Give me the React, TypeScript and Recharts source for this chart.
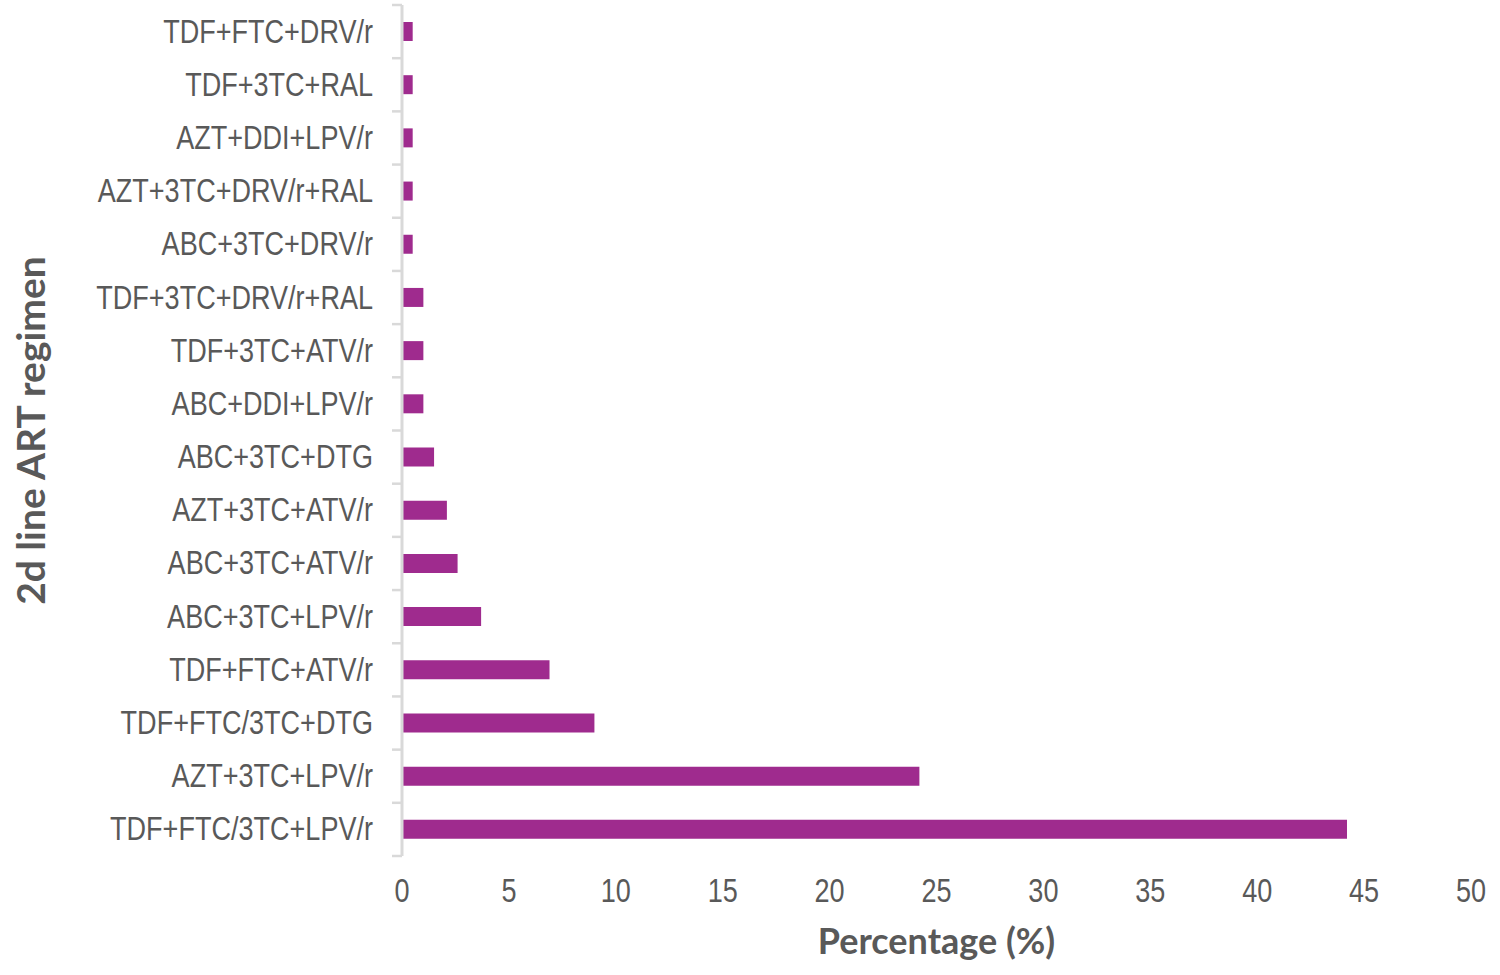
import React from "react";
import { BarChart, Bar, XAxis, YAxis, Label } from "recharts";

const categories = [
  "TDF+FTC+DRV/r",
  "TDF+3TC+RAL",
  "AZT+DDI+LPV/r",
  "AZT+3TC+DRV/r+RAL",
  "ABC+3TC+DRV/r",
  "TDF+3TC+DRV/r+RAL",
  "TDF+3TC+ATV/r",
  "ABC+DDI+LPV/r",
  "ABC+3TC+DTG",
  "AZT+3TC+ATV/r",
  "ABC+3TC+ATV/r",
  "ABC+3TC+LPV/r",
  "TDF+FTC+ATV/r",
  "TDF+FTC/3TC+DTG",
  "AZT+3TC+LPV/r",
  "TDF+FTC/3TC+LPV/r",
];

const percentages = [0.5, 0.5, 0.5, 0.5, 0.5, 1.0, 1.0, 1.0, 1.5, 2.1, 2.6, 3.7, 6.9, 9.0, 24.2, 44.2];

const xTicks = [0, 5, 10, 15, 20, 25, 30, 35, 40, 45, 50];

const data = categories.map((name, i) => ({ name, value: percentages[i] }));

const W = 1500;
const H = 975;
const M = { top: 5, right: 29, bottom: 0, left: 0 };
const Y_AXIS_W = 402;
const X_AXIS_H = 119;
const PLOT_H = H - M.top - M.bottom - X_AXIS_H;
const BAND = PLOT_H / categories.length;

const TEXT = "#595959";
const AXIS = "#d9d9d9";
const TICK_FONT = "'Liberation Sans', Arial, sans-serif";
const TICK_SIZE = 33;
const NARROW = 0.82;
const TITLE_FONT = "Lato, 'Open Sans', sans-serif";

const YTick = (props: any) => {
  const { y, payload, index } = props;
  return (
    <g>
      {index === 0 && (
        <line x1={Y_AXIS_W - 10} x2={Y_AXIS_W} y1={y - BAND / 2} y2={y - BAND / 2} stroke={AXIS} strokeWidth={2.5} />
      )}
      <line x1={Y_AXIS_W - 10} x2={Y_AXIS_W} y1={y + BAND / 2} y2={y + BAND / 2} stroke={AXIS} strokeWidth={2.5} />
      <text
        transform={`translate(${Y_AXIS_W - 29},${y + 11}) scale(${NARROW},1)`}
        textAnchor="end"
        fill={TEXT}
        fontSize={TICK_SIZE}
        fontFamily={TICK_FONT}
      >
        {payload.value}
      </text>
    </g>
  );
};

const XTick = (props: any) => {
  const { x, payload } = props;
  return (
    <text
      transform={`translate(${x},${H - X_AXIS_H + 46}) scale(${NARROW},1)`}
      textAnchor="middle"
      fill={TEXT}
      fontSize={TICK_SIZE}
      fontFamily={TICK_FONT}
    >
      {payload.value}
    </text>
  );
};

export default function App() {
  return (
    <div style={{ position: "absolute", left: 0, top: 0, width: W, height: H, background: "#fff" }}>
      <style>{"body{margin:0;}"}</style>
      <BarChart width={W} height={H} data={data} layout="vertical" margin={M} barCategoryGap="64%">
        <XAxis
          type="number"
          domain={[0, 50]}
          ticks={xTicks}
          axisLine={false}
          tickLine={false}
          tick={<XTick />}
          height={X_AXIS_H}
          interval={0}
        >
          <Label
            value="Percentage (%)"
            position="insideBottom"
            offset={21}
            fill={TEXT}
            fontSize={36}
            fontWeight="bold"
            fontFamily={TITLE_FONT}
          />
        </XAxis>
        <YAxis
          type="category"
          dataKey="name"
          width={Y_AXIS_W}
          axisLine={{ stroke: AXIS, strokeWidth: 3 }}
          tickLine={false}
          tick={<YTick />}
          interval={0}
        >
          <Label
            value="2d line ART regimen"
            angle={-90}
            position="insideLeft"
            offset={0}
            dx={31}
            textAnchor="middle"
            fill={TEXT}
            fontSize={39}
            fontWeight="bold"
            fontFamily={TITLE_FONT}
          />
        </YAxis>
        <Bar dataKey="value" fill="#9F2B8E" barSize={19} isAnimationActive={false} />
      </BarChart>
    </div>
  );
}
